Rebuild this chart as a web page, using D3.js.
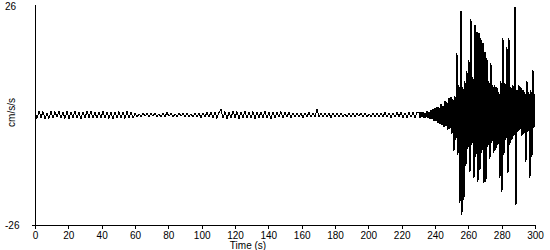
<!DOCTYPE html>
<html>
<head>
<meta charset="utf-8">
<script src="https://cdn.jsdelivr.net/npm/d3@7"></script>
<style>
  body { margin: 0; background: #fff; }
  text { font-family: "Liberation Sans", Arial, sans-serif; font-size: 10px; fill: #000; }
</style>
</head>
<body>
<div id="graf"></div>
<script>
// Registro antes del sismo (0 a 229.2 s, cada 1.2 s)
const quietStep = 1.2
const quietVals = [
  0.7, -0.8, 0.9, -0.6, 0.8, -0.9, 0.5, -0.8, 0.9, -0.7,
  0.8, -0.5, 1.0, -0.8, 0.6, -0.8, 0.9, -0.9, 0.7, -0.6,
  0.9, -0.8, 0.7, -1.0, 0.8, -0.7, 0.9, -0.6, 1.0, -0.8,
  0.6, -0.8, 0.8, -0.7, 0.9, -0.8, 0.7, -0.8, 0.6, -0.9,
  0.8, -0.7, 0.8, -0.6, 0.7, -0.8, 0.9, -0.7, 0.6, -0.7,
  0.4, -0.5, 0.3, -0.4, 0.5, -0.3, 0.4, -0.5, 0.4, -0.3,
  0.5, -0.4, 0.3, -0.5, 0.4, -0.4, 0.6, -0.3, 0.4, -0.5,
  0.3, -0.4, 0.5, -0.3, 0.4, -0.5, 0.4, -0.4, 0.3, -0.5,
  0.5, -0.4, 0.4, -0.6, 0.5, -0.4, 0.6, -0.5, 0.7, -0.6,
  0.7, -0.8, 0.6, 1.3, -0.7, 0.8, -0.9, 0.6, -0.7, 0.9,
  -0.6, 0.8, -0.9, 0.7, -0.6, 0.9, -0.8, 0.6, -0.7, 0.8,
  -0.9, 0.7, -0.6, 0.8, -0.7, 1.0, -0.8, 0.6, -0.9, 0.7,
  -0.6, 0.7, -0.5, 0.8, -0.7, 0.6, -0.5, 0.7, -0.6, 0.5,
  -0.4, 0.5, -0.5, 0.4, -0.6, 0.5, -0.4, 0.6, -0.5, 0.4,
  -0.4, 1.4, -0.5, 0.4, -0.5, 0.5, -0.4, 0.4, -0.6, 0.5,
  -0.4, 0.4, -0.5, 0.5, -0.4, 0.3, -0.5, 0.4, -0.4, 0.5,
  -0.5, 0.4, -0.3, 0.5, -0.4, 0.4, -0.5, 0.3, -0.4, 0.5,
  -0.4, 0.5, -0.5, 0.4, -0.4, 0.6, -0.5, 0.5, -0.6, 0.5,
  -0.5, 0.6, -0.4, 0.6, -0.6, 0.5, -0.6, 0.7, -0.5, 0.6,
  -0.7, 0.6
]

// Movimiento fuerte (230.4 a 300 s, cada 0.6 s)
const strongStart = 230.4
const strongStep = 0.6
const strongVals = [
  0.6, -0.7, 0.8, -0.5, 0.7, -0.8, 0.5, -0.6, 0.9, -0.7,
  0.6, -0.9, 1.2, -1.0, 1.4, -1.5, 1.7, -1.4, 2.0, -1.9,
  1.8, -2.2, 2.6, -2.4, 2.2, -2.9, 3.3, -2.7, 3.0, -3.5,
  4.1, -3.2, 4.3, -4.6, 3.8, -8.5, 4.5, -6.0, 14.7, -9.5,
  7.0, -20.8, 24.6, -23.6, 6.5, -20.1, 8.0, -12.0, 10.5, -8.0,
  13.0, -13.5, 22.7, -7.0, 9.0, -14.9, 21.3, -10.0, 19.6, -15.8,
  19.4, -13.0, 18.2, -9.0, 17.0, -16.1, 14.9, -15.8, 13.5, -7.5,
  8.0, -10.5, 12.3, -6.5, 7.0, -9.0, 7.1, -8.3, 6.5, -7.0,
  5.5, -15.0, 8.0, -18.2, 18.2, -9.5, 7.5, -6.0, 16.1, -13.7,
  18.2, -7.0, 6.5, -5.9, 7.1, -5.0, 25.5, -21.3, 6.0, -4.0,
  7.1, -3.5, 6.5, -5.0, 6.0, -4.5, 5.5, -11.1, 8.0, -4.0,
  5.5, -14.9, 6.0, -9.9, 10.6, -3.0, 5.0
]

const xTicks = [0, 20, 40, 60, 80, 100, 120, 140, 160, 180, 200, 220, 240, 260, 280, 300]
const yLimits = [-26, 26]
const xText = 'Time (s)'
const yText = 'cm/s/s'

const draw = () => {
  const anchoTotal = 550
  const altoTotal = 250

  // Serie completa
  const data = quietVals.map((v, i) => ({ t: i * quietStep, v }))
    .concat(strongVals.map((v, i) => ({ t: strongStart + i * strongStep, v })))

  const svg = d3.select('#graf')
    .append('svg')
    .attr('width', anchoTotal)
    .attr('height', altoTotal)

  const x = d3.scaleLinear().domain([0, 300]).range([35, 535])
  const y = d3.scaleLinear().domain(yLimits).range([225, 5])

  // Señal
  svg.append('path')
    .datum(data)
    .attr('fill', 'none')
    .attr('stroke', '#000')
    .attr('stroke-width', 1)
    .attr('shape-rendering', 'crispEdges')
    .attr('d', d3.line().x(d => x(d.t)).y(d => y(d.v)))

  // Eje X
  const xAxis = svg.append('g')
    .attr('transform', `translate(0, ${y(yLimits[0])})`)
    .call(d3.axisBottom(x).tickValues(xTicks).tickSize(4).tickSizeOuter(0).tickPadding(3))

  xAxis.select('.domain').remove()
  xAxis.selectAll('line').attr('stroke', '#000').attr('shape-rendering', 'crispEdges')
  xAxis.selectAll('text').attr('font-size', 10).attr('font-family', null)

  svg.append('line')
    .attr('x1', x(0) - 3).attr('x2', x(300))
    .attr('y1', y(yLimits[0])).attr('y2', y(yLimits[0]))
    .attr('stroke', '#000')
    .attr('shape-rendering', 'crispEdges')

  // Eje Y
  svg.append('line')
    .attr('x1', x(0)).attr('x2', x(0))
    .attr('y1', y(yLimits[1])).attr('y2', y(yLimits[0]))
    .attr('stroke', '#000')
    .attr('shape-rendering', 'crispEdges')

  svg.selectAll('.ylabel')
    .data(yLimits)
    .join('text')
    .attr('class', 'ylabel')
    .attr('x', 5)
    .attr('y', d => y(d) + (d > 0 ? 4.5 : 3.5))
    .text(d => d)

  // Títulos
  svg.append('text')
    .attr('x', 248)
    .attr('y', 249)
    .attr('text-anchor', 'middle')
    .text(xText)

  svg.append('text')
    .attr('transform', `translate(15, 112.5) rotate(-90)`)
    .attr('text-anchor', 'middle')
    .text(yText)
}

draw()
</script>
</body>
</html>
